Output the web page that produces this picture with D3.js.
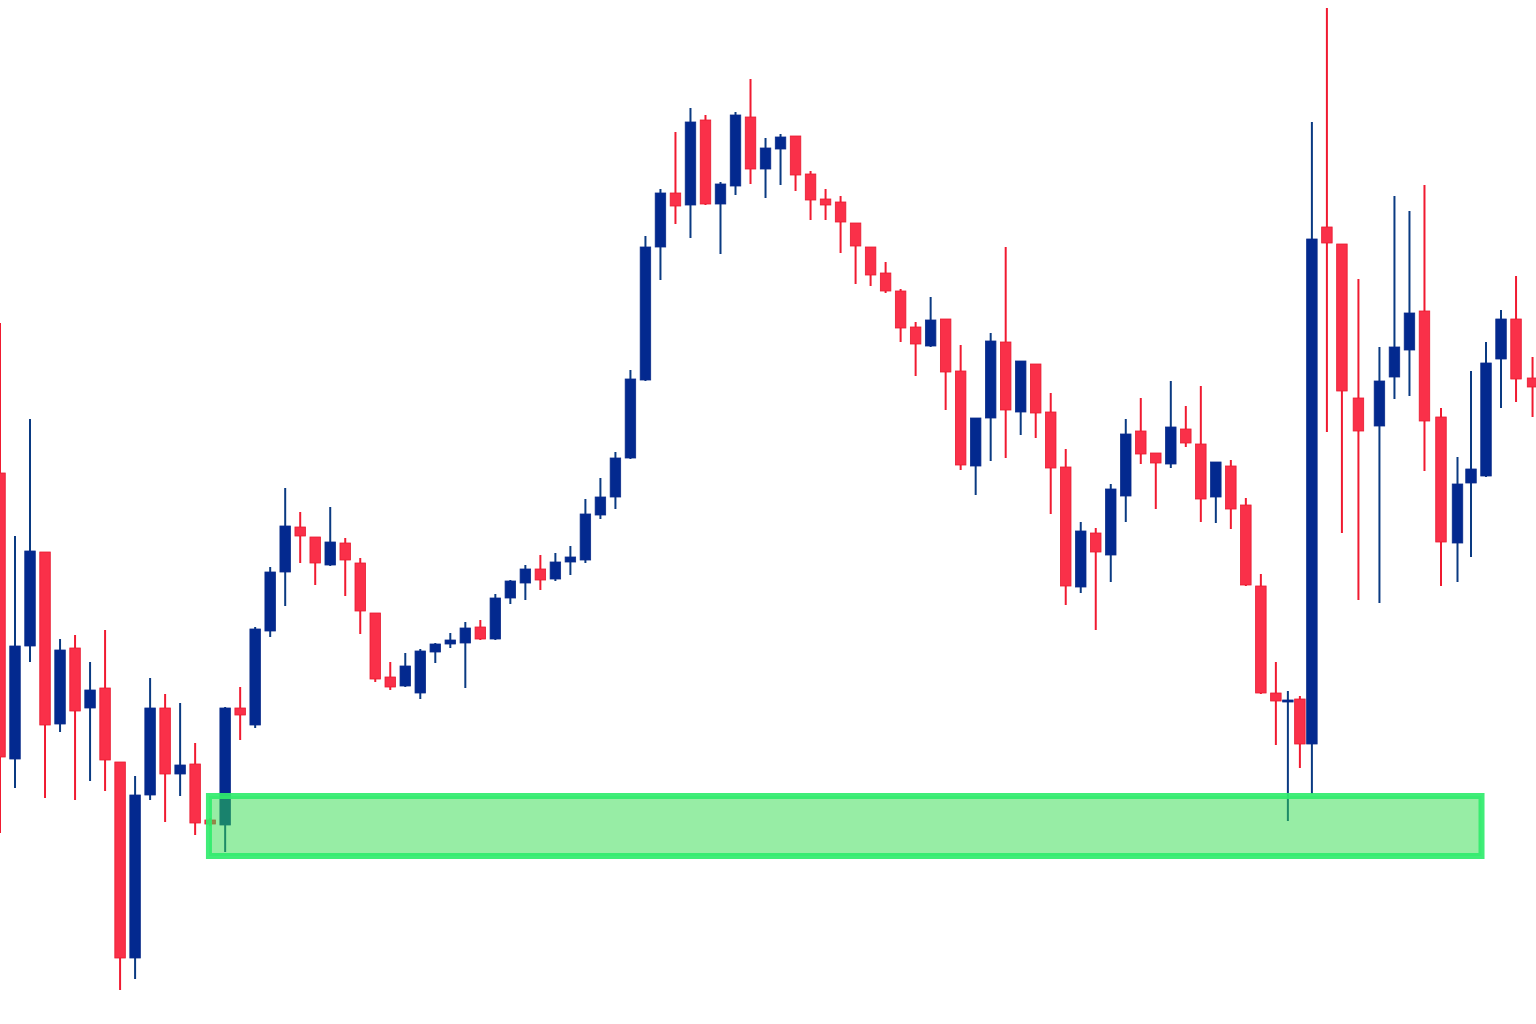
<!DOCTYPE html>
<html>
<head>
<meta charset="utf-8">
<script src="https://cdn.jsdelivr.net/npm/d3@7"></script>
<style>
  html, body { margin: 0; padding: 0; background: #ffffff; }
  svg { display: block; }
</style>
</head>
<body>
<script>
// Time slot of each candle (position along the time axis)
const slots = [0,1,2,3,4,5,6,7,8,9,10,11,12,13,14,15,16,17,18,19,20,21,22,23,24,25,26,27,28,29,
  30,31,32,33,34,35,36,37,38,39,40,41,42,43,44,45,46,47,48,49,50,51,52,53,54,55,56,57,58,59,
  60,61,62,63,64,65,66,67,68,69,70,71,72,73,74,75,76,77,78,79,80,81,82,83,84,85,
  85.8,86.6,87.4,88.4,89.4,90.5,91.9,92.9,93.9,94.9,96.0,97.1,98.0,99.0,100.0,101.0,102.1];

const opens = [551,265,378,472,300,376,316,336,262,66,229,316,250,260,204,199,316,299,393,452,
  497,487,459,481,461,411,347,338,331,372,380,381,397,385,426,441,455,445,462,464,
  509,527,566,644,777,831,819,904,820,838,907,855,875,888,850,825,822,801,777,751,
  733,697,678,705,653,558,606,682,612,660,612,557,437,491,469,528,593,571,560,595,
  580,527,558,519,438,331,322,325,280,797,780,626,598,647,674,713,607,481,541,548,665,705,646];

const highs = [701,488,605,472,385,389,362,394,262,248,346,330,321,281,206,317,337,397,457,536,
  512,487,517,486,466,411,362,371,375,381,391,402,404,430,444,459,469,471,478,525,
  546,572,654,788,835,892,916,909,842,912,945,886,890,888,853,835,828,801,777,762,
  735,702,727,705,679,606,691,777,663,660,631,575,502,496,540,605,626,571,643,618,
  638,562,564,526,450,362,333,328,902,1016,780,745,677,828,813,839,616,567,653,682,714,748,667];

const lows = [191,236,362,226,292,224,243,233,34,45,224,202,228,189,198,172,284,296,387,418,
  461,439,458,428,390,342,334,337,325,361,376,336,384,384,420,424,434,443,449,461,
  505,515,565,643,744,800,786,819,770,829,840,826,839,833,804,804,771,740,738,731,
  682,648,677,614,554,529,563,566,589,586,510,419,431,394,442,502,560,515,556,577,
  502,501,495,438,330,279,203,256,230,592,491,424,421,625,628,553,438,442,467,547,616,622,607];

const closes = [267,378,473,299,374,313,334,264,66,229,316,250,259,201,200,316,309,395,452,498,
  488,461,482,464,413,345,337,358,373,380,384,396,385,426,443,455,444,462,467,510,
  527,566,645,777,831,818,902,820,840,909,855,876,887,849,824,819,802,778,749,733,
  696,680,704,652,559,606,683,614,663,611,556,438,493,472,535,590,570,561,597,581,
  525,562,515,439,331,323,324,280,785,781,633,593,643,677,711,603,482,540,555,661,705,645,637];

// Highlighted demand zone (price range and time span)
const zoneLow = 168;
const zoneHigh = 228;
const zoneStartSlot = 13.92;
const zoneEndSlot = 98.7;

const W = 1536, H = 1024;
const candles = slots.map((s, i) => ({ slot: s, open: opens[i], high: highs[i], low: lows[i], close: closes[i] }));

const x = d3.scaleLinear().domain([0, 102.33]).range([0, W]);
const y = d3.scaleLinear().domain([0, 1024]).range([H, 0]);

const svg = d3.select("body").append("svg").attr("width", W).attr("height", H);
svg.append("rect").attr("width", W).attr("height", H).attr("fill", "#ffffff");

const bodyW = x(0.7) - x(0);
const upFill = "#03298f", upWick = "#0a3a82";
const dnFill = "#fa3049", dnWick = "#f01a30", dnStroke = "#e8192f";

const g = svg.append("g");
const c = g.selectAll("g.candle").data(candles).join("g").attr("class", "candle");

c.append("line")
  .attr("x1", d => x(d.slot)).attr("x2", d => x(d.slot))
  .attr("y1", d => y(d.high)).attr("y2", d => y(d.low))
  .attr("stroke", d => d.close >= d.open ? upWick : dnWick)
  .attr("stroke-width", 2);

c.append("rect")
  .attr("x", d => x(d.slot) - bodyW / 2)
  .attr("width", bodyW)
  .attr("y", d => y(Math.max(d.open, d.close)))
  .attr("height", d => Math.max(2, Math.abs(y(d.open) - y(d.close))))
  .attr("fill", d => d.close >= d.open ? upFill : dnFill)
  .attr("stroke", d => d.close >= d.open ? "#0a2c8a" : dnStroke)
  .attr("stroke-width", 0.8);

// Zone box drawn over candles
svg.append("rect")
  .attr("x", x(zoneStartSlot))
  .attr("y", y(zoneHigh))
  .attr("width", x(zoneEndSlot) - x(zoneStartSlot))
  .attr("height", y(zoneLow) - y(zoneHigh))
  .attr("fill", "rgb(48,220,76)")
  .attr("fill-opacity", 0.5)
  .attr("stroke", "#30ec6c")
  .attr("stroke-opacity", 0.92)
  .attr("stroke-width", 6);
</script>
</body>
</html>
